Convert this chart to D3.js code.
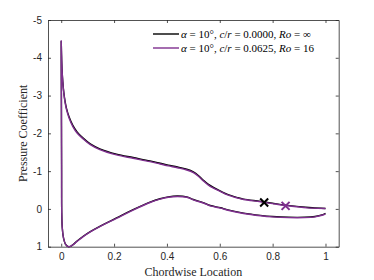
<!DOCTYPE html>
<html>
<head>
<meta charset="utf-8">
<script src="https://cdn.jsdelivr.net/npm/d3@7"></script>
<style>
  body { margin: 0; background: #fff; }
  svg { display: block; }
</style>
</head>
<body>
<div id="chart"></div>
<script>
// upper (suction) surface
var xUpper = [0, 0.001, 0.003, 0.006, 0.01, 0.015, 0.02, 0.03, 0.044, 0.06, 0.082, 0.11, 0.146, 0.209, 0.272, 0.336, 0.374, 0.405, 0.44, 0.475, 0.5, 0.52, 0.538, 0.557, 0.576, 0.603, 0.627, 0.667, 0.69, 0.754, 0.8, 0.849, 0.9, 0.95, 1.0];
var cpUpperRo16 = [-4.45, -4.15, -3.7, -3.35, -3.05, -2.8, -2.63, -2.4, -2.18, -2.01, -1.86, -1.7, -1.57, -1.43, -1.34, -1.25, -1.19, -1.14, -1.09, -1.03, -0.96, -0.86, -0.74, -0.63, -0.55, -0.46, -0.38, -0.29, -0.25, -0.19, -0.14, -0.09, -0.05, -0.02, -0.01];
var cpUpperInf = [-4.43, -4.14, -3.71, -3.37, -3.07, -2.83, -2.66, -2.43, -2.21, -2.04, -1.88, -1.72, -1.59, -1.45, -1.36, -1.27, -1.21, -1.16, -1.11, -1.05, -0.98, -0.88, -0.76, -0.65, -0.57, -0.47, -0.39, -0.3, -0.26, -0.2, -0.15, -0.1, -0.06, -0.03, -0.01];

// lower (pressure) surface
var xLower = [0, 0.0005, 0.001, 0.0015, 0.002, 0.004, 0.009, 0.016, 0.027, 0.035, 0.044, 0.06, 0.082, 0.11, 0.146, 0.209, 0.272, 0.336, 0.374, 0.405, 0.44, 0.475, 0.5, 0.54, 0.564, 0.603, 0.627, 0.69, 0.754, 0.8, 0.86, 0.92, 0.96, 0.99, 1.0];
var cpLowerRo16 = [-4.45, -3.4, -2.2, -0.9, 0.1, 0.5, 0.78, 0.93, 1.0, 0.99, 0.95, 0.86, 0.74, 0.61, 0.47, 0.25, 0.03, -0.17, -0.26, -0.31, -0.33, -0.31, -0.24, -0.15, -0.08, -0.02, 0.03, 0.12, 0.18, 0.21, 0.23, 0.23, 0.21, 0.16, 0.13];
var cpLowerInf = [-4.43, -3.4, -2.2, -0.9, 0.1, 0.5, 0.78, 0.93, 1.0, 0.99, 0.95, 0.85, 0.73, 0.6, 0.46, 0.24, 0.02, -0.18, -0.27, -0.32, -0.34, -0.32, -0.25, -0.16, -0.09, -0.03, 0.02, 0.11, 0.17, 0.2, 0.22, 0.22, 0.2, 0.15, 0.12];

// x markers
var markX = [0.768, 0.849];
var markCp = [-0.17, -0.08];

var seriesColors = ["#000000", "#7E2F8E"];
var legendLabels = ["α = 10°, c/r = 0.0000, Ro = ∞", "α = 10°, c/r = 0.0625, Ro = 16"];

var xTicks = [0, 0.2, 0.4, 0.6, 0.8, 1];
var yTicks = [-5, -4, -3, -2, -1, 0, 1];

function init() {
    var w = 374, h = 280;
    var margin = {top: 20, right: 35.3, bottom: 33.3, left: 48};
    var svg = d3.select("#chart").append("svg")
        .attr("width", w).attr("height", h);

    var x = d3.scaleLinear().domain([-0.05, 1.05]).range([margin.left, w - margin.right]);
    var y = d3.scaleLinear().domain([-5, 1]).range([margin.top, h - margin.bottom]);

    var axisColor = "#262626";
    var tickFont = "'Liberation Sans', Arial, sans-serif";

    function styleAxis(g, showLabels) {
        g.select(".domain").attr("stroke", axisColor).attr("stroke-width", 0.8);
        g.selectAll(".tick line").attr("stroke", axisColor).attr("stroke-width", 0.8);
        g.selectAll(".tick text").attr("fill", axisColor)
            .style("font-family", tickFont).style("font-size", "10px");
        if (!showLabels) g.selectAll(".tick text").remove();
    }

    // bottom
    svg.append("g").attr("transform", "translate(0," + (h - margin.bottom) + ")")
        .call(d3.axisBottom(x).tickValues(xTicks).tickFormat(d3.format("~g")).tickSize(-3).tickSizeOuter(0).tickPadding(6))
        .call(styleAxis, true);
    // top
    svg.append("g").attr("transform", "translate(0," + margin.top + ")")
        .call(d3.axisTop(x).tickValues(xTicks).tickSize(-3).tickSizeOuter(0))
        .call(styleAxis, false);
    // left
    svg.append("g").attr("transform", "translate(" + margin.left + ",0)")
        .call(d3.axisLeft(y).tickValues(yTicks).tickFormat(function(d){ return String(d); }).tickSize(-3).tickSizeOuter(0).tickPadding(6))
        .call(styleAxis, true);
    // right
    svg.append("g").attr("transform", "translate(" + (w - margin.right) + ",0)")
        .call(d3.axisRight(y).tickValues(yTicks).tickSize(-3).tickSizeOuter(0))
        .call(styleAxis, false);

    // curves: upper surface from TE to LE, then lower from LE to TE
    function loop(cpU, cpL) {
        var pts = [];
        for (var i = xUpper.length - 1; i >= 0; i--) pts.push([xUpper[i], cpU[i]]);
        for (var j = 1; j < xLower.length; j++) pts.push([xLower[j], cpL[j]]);
        return pts;
    }
    var line = d3.line()
        .x(function(d){ return x(d[0]); })
        .y(function(d){ return y(d[1]); })
        .curve(d3.curveCatmullRom.alpha(0.5));

    var loops = [loop(cpUpperInf, cpLowerInf), loop(cpUpperRo16, cpLowerRo16)];
    svg.selectAll("path.curve")
        .data(loops)
        .enter()
        .append("path")
        .attr("class", "curve")
        .attr("d", line)
        .attr("fill", "none")
        .attr("stroke", function(d, i){ return seriesColors[i]; })
        .attr("stroke-width", 1.4)
        .attr("stroke-linejoin", "round");

    // x markers
    var s = 4;
    markX.forEach(function(mx, i) {
        var cx = x(mx), cy = y(markCp[i]);
        svg.append("path")
            .attr("d", "M" + (cx - s) + "," + (cy - s) + "L" + (cx + s) + "," + (cy + s) +
                       "M" + (cx - s) + "," + (cy + s) + "L" + (cx + s) + "," + (cy - s))
            .attr("stroke", seriesColors[i])
            .attr("stroke-width", 2);
    });

    // legend
    var lx = 153, ly = 34, dy = 14;
    legendLabels.forEach(function(lab, i) {
        var yy = ly + i * dy;
        svg.append("line")
            .attr("x1", lx).attr("x2", lx + 26)
            .attr("y1", yy).attr("y2", yy)
            .attr("stroke", seriesColors[i]).attr("stroke-width", 1.4);
        var t = svg.append("text")
            .attr("x", lx + 28).attr("y", yy + 4)
            .style("font-family", "'Liberation Serif', 'Times New Roman', serif")
            .style("font-size", "11px")
            .attr("fill", "#000");
        lab.split(/([A-Za-zα]+)/).forEach(function(part) {
            if (!part) return;
            var sp = t.append("tspan").text(part);
            if (/[A-Za-zα]/.test(part)) sp.style("font-style", "italic");
        });
    });

    // axis titles
    var serif = "'Liberation Serif', 'Times New Roman', serif";
    svg.append("text")
        .attr("x", (margin.left + w - margin.right) / 2)
        .attr("y", 276)
        .attr("text-anchor", "middle")
        .style("font-family", serif).style("font-size", "12px")
        .attr("fill", axisColor)
        .text("Chordwise Location");
    svg.append("text")
        .attr("transform", "translate(27," + ((margin.top + h - margin.bottom) / 2) + ") rotate(-90)")
        .attr("text-anchor", "middle")
        .style("font-family", serif).style("font-size", "12px")
        .attr("fill", axisColor)
        .text("Pressure Coefficient");
}
window.onload = init;
</script>
</body>
</html>
